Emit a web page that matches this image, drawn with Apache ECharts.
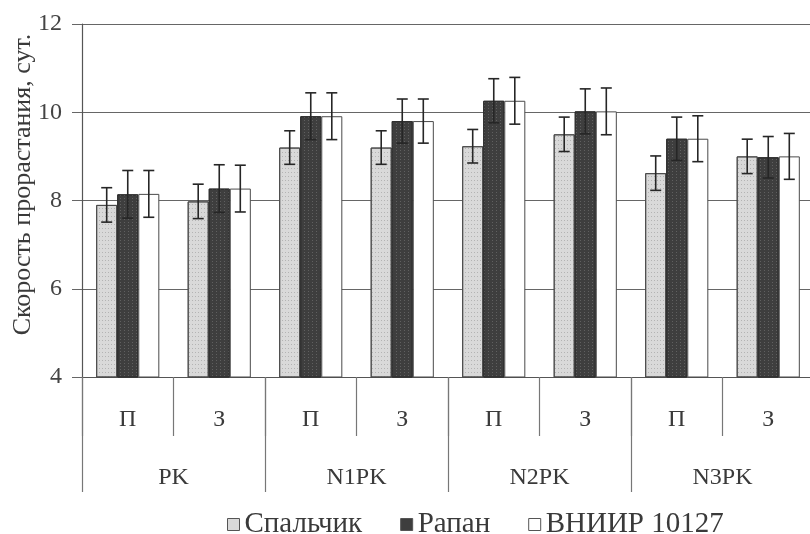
<!DOCTYPE html>
<html>
<head>
<meta charset="utf-8">
<script src="https://cdn.jsdelivr.net/npm/echarts@6/dist/echarts.min.js"></script>
<style>
  html, body { margin: 0; padding: 0; background: #ffffff; }
  #chart { width: 810px; height: 534px; }
</style>
</head>
<body>
<div id="chart"></div>
<script>
// Sowing term within each fertiliser treatment
const subCategories = ['П', 'З', 'П', 'З', 'П', 'З', 'П', 'З'];
// Fertiliser treatments (each spans two sub-categories)
const groups = ['PK', 'N1PK', 'N2PK', 'N3PK'];
const seriesNames = ['Спальчик', 'Рапан', 'ВНИИР 10127'];

// Germination rate, days
const spalchik = [7.9, 7.98, 9.2, 9.2, 9.23, 9.5, 8.62, 9.0];
const rapan    = [8.14, 8.27, 9.91, 9.8, 10.26, 10.02, 9.4, 8.98];
const vniir    = [8.15, 8.27, 9.91, 9.8, 10.26, 10.02, 9.4, 9.0];

// Error margins (±)
const spalchikErr = [0.39, 0.39, 0.38, 0.38, 0.38, 0.39, 0.39, 0.39];
const rapanErr    = [0.54, 0.54, 0.53, 0.50, 0.50, 0.51, 0.49, 0.47];
const vniirErr    = [0.53, 0.53, 0.53, 0.50, 0.53, 0.53, 0.52, 0.52];

const yMin = 4, yMax = 12, yStep = 2;

const FONT = '"Liberation Serif", "DejaVu Serif", serif';
const INK = '#3a3a3a';
const CAT_GAP = 0.31;

const barStyles = [
  { color: '#d9d9d9', borderColor: '#4a4a4a', borderWidth: 1,
    decal: { symbol: 'rect', symbolSize: 1, color: 'rgba(110,110,110,0.35)', dashArrayX: [1, 2], dashArrayY: [1, 3] } },
  { color: '#3e3e3e', borderColor: '#2e2e2e', borderWidth: 1,
    decal: { symbol: 'rect', symbolSize: 1, color: 'rgba(160,160,160,0.35)', dashArrayX: [1, 3], dashArrayY: [1, 2] } },
  { color: '#ffffff', borderColor: '#4a4a4a', borderWidth: 1 }
];

function barSeries(name, values, style) {
  return {
    name: name,
    type: 'bar',
    xAxisIndex: 0,
    yAxisIndex: 0,
    data: values,
    barGap: '0%',
    barCategoryGap: (CAT_GAP * 100) + '%',
    itemStyle: style,
    emphasis: { disabled: true },
    z: 2
  };
}

function errorSeries(values, errs, slot) {
  return {
    type: 'custom',
    xAxisIndex: 0,
    yAxisIndex: 0,
    z: 5,
    silent: true,
    data: values.map((v, i) => [i, v, errs[i]]),
    renderItem(params, api) {
      const i = api.value(0), v = api.value(1), e = api.value(2);
      const band = api.size([1, 0])[0];
      const bw = band * (1 - CAT_GAP) / 3;
      const x = api.coord([i, v])[0] + (slot - 1) * bw;
      const yTop = api.coord([i, v + e])[1];
      const yBot = api.coord([i, v - e])[1];
      const cap = 5.5;
      const style = { stroke: '#262626', lineWidth: 1.6 };
      return {
        type: 'group',
        children: [
          { type: 'line', shape: { x1: x, y1: yTop, x2: x, y2: yBot }, style: style },
          { type: 'line', shape: { x1: x - cap, y1: yTop, x2: x + cap, y2: yTop }, style: style },
          { type: 'line', shape: { x1: x - cap, y1: yBot, x2: x + cap, y2: yBot }, style: style }
        ]
      };
    }
  };
}

const chart = echarts.init(document.getElementById('chart'), null, { renderer: 'canvas' });

chart.setOption({
  animation: false,
  backgroundColor: '#ffffff',
  textStyle: { fontFamily: FONT },
  grid: { left: 82, right: -4, top: 24, bottom: 157, containLabel: false, outerBoundsMode: 'none' },
  legend: {
    left: 222,
    top: 505,
    itemWidth: 12,
    itemHeight: 12,
    itemGap: 38,
    icon: 'rect',
    textStyle: { fontFamily: FONT, fontSize: 29, color: INK },
    data: seriesNames.map((n, k) => ({
      name: n,
      itemStyle: { color: barStyles[k].color, borderColor: '#555', borderWidth: 1, decal: 'none' }
    }))
  },
  xAxis: [
    {
      type: 'category',
      data: subCategories,
      position: 'bottom',
      axisLine: { show: true, lineStyle: { color: '#555', width: 1.2 } },
      axisTick: { show: true, interval: 0, length: 59, lineStyle: { color: '#777', width: 1.2 } },
      axisLabel: { interval: 0, margin: 31, fontSize: 24, color: INK, fontFamily: FONT },
      splitLine: { show: false }
    },
    {
      type: 'category',
      data: groups,
      position: 'bottom',
      axisLine: { show: false },
      axisTick: { show: true, interval: 0, length: 115, lineStyle: { color: '#777', width: 1.2 } },
      axisLabel: { interval: 0, margin: 89, fontSize: 24, color: INK, fontFamily: FONT },
      splitLine: { show: false }
    }
  ],
  yAxis: {
    type: 'value',
    min: yMin,
    max: yMax,
    interval: yStep,
    name: 'Скорость прорастания, сут.',
    nameLocation: 'middle',
    nameRotate: 90,
    nameGap: 46,
    nameMoveOverlap: false,
    nameTextStyle: { fontFamily: FONT, fontSize: 26, color: INK, padding: [0, 0, 0, 32] },
    axisLine: { show: true, lineStyle: { color: '#555', width: 1.2 } },
    axisTick: { show: true, length: 10, lineStyle: { color: '#666' } },
    axisLabel: { fontSize: 24, color: '#444', margin: 20, fontFamily: FONT },
    splitLine: { show: true, lineStyle: { color: '#666', width: 1.2 } }
  },
  series: [
    barSeries(seriesNames[0], spalchik, barStyles[0]),
    barSeries(seriesNames[1], rapan, barStyles[1]),
    barSeries(seriesNames[2], vniir, barStyles[2]),
    errorSeries(spalchik, spalchikErr, 0),
    errorSeries(rapan, rapanErr, 1),
    errorSeries(vniir, vniirErr, 2)
  ]
});
</script>
</body>
</html>
